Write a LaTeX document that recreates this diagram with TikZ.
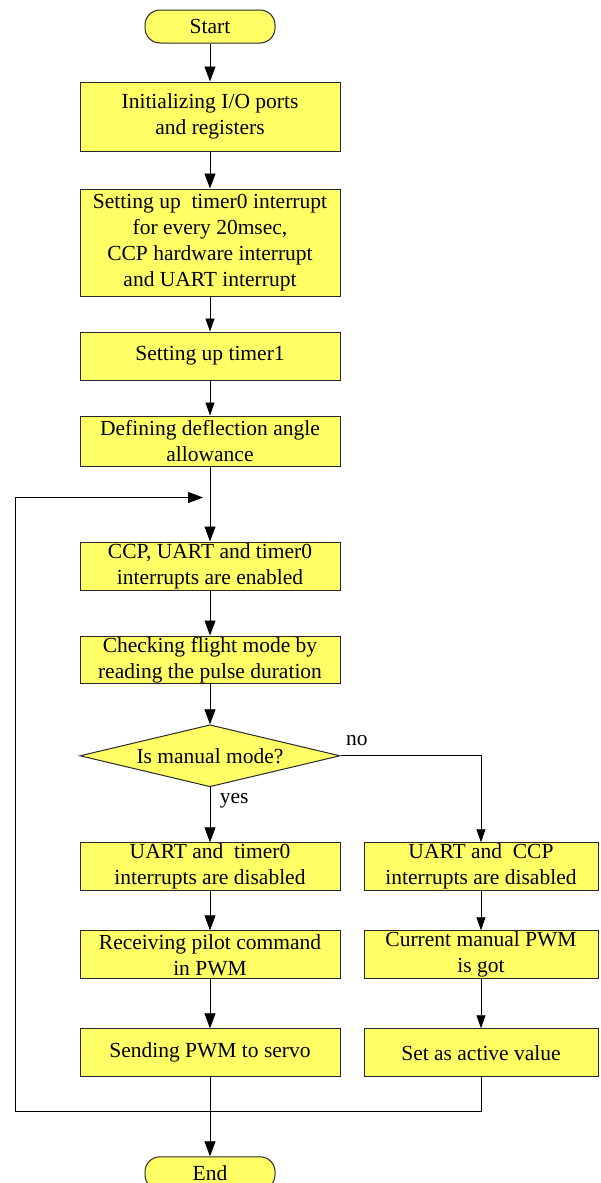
\documentclass[tikz,border=0pt]{standalone}
\usepackage{fontspec}
\setmainfont{Liberation Serif}
\usetikzlibrary{arrows.meta, positioning, shapes.geometric, calc}
\definecolor{flowyellow}{RGB}{255, 255, 102}
\definecolor{flowgray}{RGB}{40, 40, 40}

\begin{document}
\begin{tikzpicture}[
        node distance=40pt and 23pt,
        term/.style={rectangle, rounded corners=15pt, draw=flowgray, line width=1pt, fill=flowyellow, minimum width=130pt, minimum height=33pt, inner sep=0pt, font=\fontsize{21.5}{26}\selectfont},
        proc/.style={rectangle, draw=flowgray, line width=1pt, fill=flowyellow, minimum width=260pt, minimum height=48pt, inner sep=1pt, align=center, font=\fontsize{21.5}{26}\selectfont},
        procr/.style={proc, minimum width=234pt},
        decide/.style={diamond, draw=flowgray, line width=1pt, fill=flowyellow, minimum width=260pt, minimum height=62pt, aspect=4.2, inner sep=0pt, font=\fontsize{21.5}{26}\selectfont},
        arr/.style={-{Triangle[length=15pt, width=11pt]}, line width=0.9pt},
        arrs/.style={-{Triangle[length=13pt, width=9pt]}, line width=0.8pt},
        lbl/.style={font=\fontsize{21.5}{26}\selectfont}
      ]
        \useasboundingbox (0,0) rectangle (600pt,-1183pt);

        \node[term] (start) at (210pt,-26.5pt) {Start};
        \node[proc, minimum height=69pt, below=38pt of start] (init) {Initializing I/O ports\\and registers};
        \node[proc, minimum height=107pt, below=37pt of init] (setint) {Setting up~ timer0 interrupt\\for every 20msec,\\CCP hardware interrupt\\and UART interrupt};
        \node[proc, below=35pt of setint] (tmone) {Setting up timer1};
        \node[proc, minimum height=50pt, below=35pt of tmone] (defang) {Defining deflection angle\\allowance};
        \node[proc, below=75pt of defang] (enable) {CCP, UART and timer0\\interrupts are enabled};
        \node[proc, minimum height=47pt, below=45pt of enable] (check) {Checking flight mode by\\reading the pulse duration};
        \node[decide, below=40pt of check] (manual) {Is manual mode?};

        % yes branch
        \node[proc, below=55pt of manual] (disone) {UART and~ timer0\\interrupts are disabled};
        \node[proc, below=39pt of disone] (recv) {Receiving pilot command\\in PWM};
        \node[proc, below=49pt of recv] (send) {Sending PWM to servo};

        % no branch
        \node[procr, right=23pt of disone] (distwo) {UART and~ CCP\\interrupts are disabled};
        \node[procr, right=23pt of recv] (curpwm) {Current manual PWM\\is got};
        \node[procr, right=23pt of send] (setval) {Set as active value};

        \node[term, below=79pt of send] (finish) {End};

        \coordinate[below=31pt of defang] (join);
        \coordinate (loopin) at ([xshift=-7pt]join);
        \coordinate (merge) at ([yshift=-34pt]send.south);
        \coordinate (back) at ([xshift=-195pt]merge);

        \draw[arr] (start) -- (init);
        \draw[arr] (init) -- (setint);
        \draw[arrs] (setint) -- (tmone);
        \draw[arrs] (tmone) -- (defang);
        \draw[arr] (defang) -- (enable);
        \draw[arr] (enable) -- (check);
        \draw[arr] (check) -- (manual);
        \draw[arr] (manual) -- node[lbl, pos=0.25, right=6pt] {yes} (disone);
        \draw[arrs] (manual.east) -- node[lbl, pos=0, above right=6pt and 2pt] {no} ++(0,0) -| (distwo);
        \draw[arr] (disone) -- (recv);
        \draw[arr] (recv) -- (send);
        \draw[arrs] (distwo) -- (curpwm);
        \draw[arrs] (curpwm) -- (setval);
        \draw[arr] (send) -- (finish);
        \draw[arr] (setval) |- (back) |- (loopin);
      \end{tikzpicture}
\end{document}
